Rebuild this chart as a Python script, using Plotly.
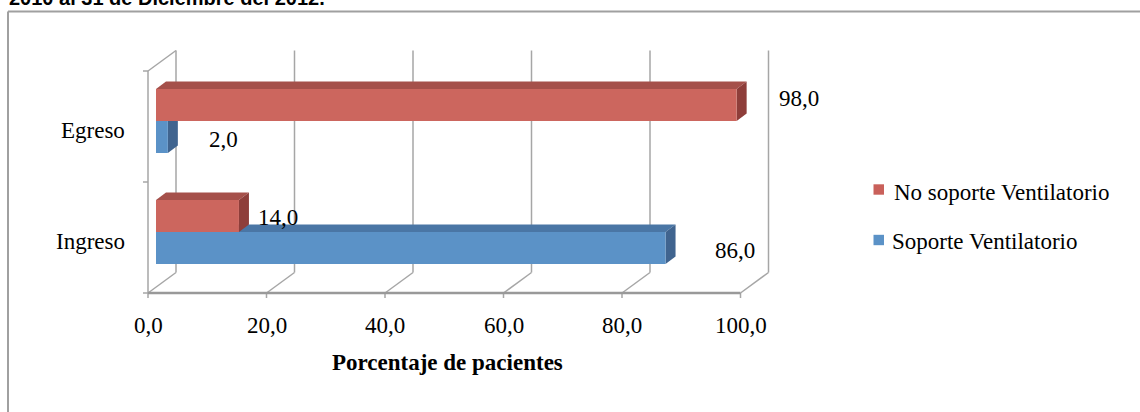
import plotly.graph_objects as go

# ---- data ----
categories = ["Ingreso", "Egreso"]
soporte = [86.0, 2.0]
no_soporte = [14.0, 98.0]
series_names = ["Soporte Ventilatorio", "No soporte Ventilatorio"]
x_ticks = [0, 20, 40, 60, 80, 100]
title_text = "2010 al 31 de Diciembre del 2012."
x_title = "Porcentaje de pacientes"

# ---- canvas / scale (pixel based, so the 3D box keeps its proportions) ----
W, H = 1140, 412
PXX, X0 = 5.925, 148      # px per percent, x pixel of 0 on the front axis
PXY, Y0 = 111.0, 293      # px per category slot, y pixel of the front floor


def dx(p):
    return p / PXX


def dy(p):
    return p / PXY


def paper_x(p):
    return p / W


def paper_y(p):
    return 1 - p / H


WALL_DX, WALL_DY = dx(28), dy(20.5)   # depth of the back wall
BAR_X0, BAR_LIFT = dx(8), dy(5.5)     # bars sit a little inside the box
BAR_W = dy(32)                        # bar thickness
BAR_DX, BAR_DY = dx(10), dy(7.5)      # bar depth

SERIF = "Liberation Serif"
GRID = "#A6A6A6"

cat_pos = [i + 0.5 for i in range(len(categories))]
n_cat = len(categories)

styles = {
    "Soporte Ventilatorio": dict(front="#5B92C7", top="#4A76A5", side="#40648F",
                                 legend="#5B92C7", offset=-BAR_W),
    "No soporte Ventilatorio": dict(front="#CC665E", top="#A5504A", side="#8E3E3A",
                                    legend="#C9605A", offset=0.0),
}
# per-label pixel nudges (right, down) for the value labels
label_nudge = {
    ("Soporte Ventilatorio", "Ingreso"): (69, 2.5),
    ("Soporte Ventilatorio", "Egreso"): (56, 2.5),
    ("No soporte Ventilatorio", "Ingreso"): (39.5, 1),
    ("No soporte Ventilatorio", "Egreso"): (62, -7),
}

fig = go.Figure()
shapes = []
annotations = []


def line(x0, y0, x1, y1, color=GRID, width=1.5, ref="x"):
    shapes.append(dict(type="line", xref=ref, yref="y" if ref == "x" else "paper",
                       x0=x0, y0=y0, x1=x1, y1=y1, layer="below",
                       line=dict(color=color, width=width)))


def poly(points, color):
    path = "M " + " L ".join(f"{px},{py}" for px, py in points) + " Z"
    shapes.append(dict(type="path", xref="x", yref="y", path=path, layer="below",
                       fillcolor=color, line=dict(width=0)))


# ---- 3D box: back-wall gridlines, floor diagonals, left wall ----
for t in x_ticks:
    line(t + WALL_DX, WALL_DY, t + WALL_DX, n_cat + WALL_DY)
    line(t, 0, t + WALL_DX, WALL_DY)
    line(t, 0, t, -dy(5))
line(0, n_cat, WALL_DX, n_cat + WALL_DY)
line(0, 0, 0, n_cat)
for k in range(n_cat + 1):
    line(0, k, -dx(5), k)
line(x_ticks[0], 0, x_ticks[-1], 0, color="#999999", width=2.5)

# ---- bars: front faces as bar traces, top/side faces as polygons ----
for name, values in zip(series_names, [soporte, no_soporte]):
    st = styles[name]
    for i, v in enumerate(values):
        y_lo = cat_pos[i] + BAR_LIFT + st["offset"]
        y_hi = y_lo + BAR_W
        x_lo, x_hi = BAR_X0, BAR_X0 + v
        poly([(x_lo, y_hi), (x_hi, y_hi), (x_hi + BAR_DX, y_hi + BAR_DY),
              (x_lo + BAR_DX, y_hi + BAR_DY)], st["top"])
        poly([(x_hi, y_lo), (x_hi, y_hi), (x_hi + BAR_DX, y_hi + BAR_DY),
              (x_hi + BAR_DX, y_lo + BAR_DY)], st["side"])
        nx, ny = label_nudge[(name, categories[i])]
        annotations.append(dict(
            x=x_hi + dx(nx), y=(y_lo + y_hi) / 2 - dy(ny), xref="x", yref="y",
            text=f"{v:.1f}".replace(".", ","), showarrow=False,
            xanchor="center", yanchor="middle",
            font=dict(family=SERIF, size=23, color="black")))
    fig.add_trace(go.Bar(
        name=name, y=[p + BAR_LIFT for p in cat_pos], x=values, base=BAR_X0,
        orientation="h", width=BAR_W, offset=st["offset"],
        marker=dict(color=st["front"], line=dict(width=0)),
        showlegend=False, hoverinfo="skip"))

# ---- axis text ----
for i, c in enumerate(categories):
    annotations.append(dict(x=-dx(21), y=cat_pos[i] - 0.035, xref="x", yref="y",
                            text=c, showarrow=False, xanchor="right", yanchor="middle",
                            font=dict(family=SERIF, size=23, color="black")))
for t in x_ticks:
    annotations.append(dict(x=t, y=-dy(32), xref="x", yref="y",
                            text=f"{t:.1f}".replace(".", ","), showarrow=False,
                            xanchor="center", yanchor="middle",
                            font=dict(family=SERIF, size=23, color="black")))
annotations.append(dict(x=50.5, y=-dy(69), xref="x", yref="y",
                        text=f"<b>{x_title}</b>", showarrow=False,
                        xanchor="center", yanchor="middle",
                        font=dict(family=SERIF, size=23, color="black")))

# ---- legend ----
legend_rows = [("No soporte Ventilatorio", 189.5, 192.5, 892),
               ("Soporte Ventilatorio", 240, 242, 890)]
for name, sq_c, txt_c, tx in legend_rows:
    shapes.append(dict(type="rect", xref="paper", yref="paper",
                       x0=paper_x(873.5), x1=paper_x(884),
                       y0=paper_y(sq_c - 5.2), y1=paper_y(sq_c + 5.2),
                       fillcolor=styles[name]["legend"], line=dict(width=0)))
    annotations.append(dict(x=paper_x(tx), y=paper_y(txt_c), xref="paper", yref="paper",
                            text=name, showarrow=False, xanchor="left", yanchor="middle",
                            font=dict(family=SERIF, size=23, color="black")))

# ---- chart frame and heading ----
shapes.append(dict(type="line", xref="paper", yref="paper",
                   x0=paper_x(8), x1=1.01, y0=paper_y(11.5), y1=paper_y(11.5),
                   line=dict(color="#A0A0A0", width=2)))
shapes.append(dict(type="line", xref="paper", yref="paper",
                   x0=paper_x(8), x1=paper_x(8), y0=paper_y(11.5), y1=-0.01,
                   line=dict(color="#A0A0A0", width=2)))
annotations.append(dict(x=paper_x(7), y=paper_y(-2.5), xref="paper", yref="paper",
                        text=f"<b>{title_text}</b>", showarrow=False,
                        xanchor="left", yanchor="middle",
                        font=dict(family="Liberation Sans", size=20, color="black")))

fig.update_layout(
    width=W, height=H, autosize=False,
    margin=dict(l=0, r=0, t=0, b=0),
    paper_bgcolor="white", plot_bgcolor="white",
    barmode="overlay", showlegend=False,
    xaxis=dict(range=[-X0 / PXX, (W - X0) / PXX], visible=False, fixedrange=True),
    yaxis=dict(range=[(Y0 - H) / PXY, Y0 / PXY], visible=False, fixedrange=True),
    shapes=shapes, annotations=annotations,
)

fig.write_html("out.html")
